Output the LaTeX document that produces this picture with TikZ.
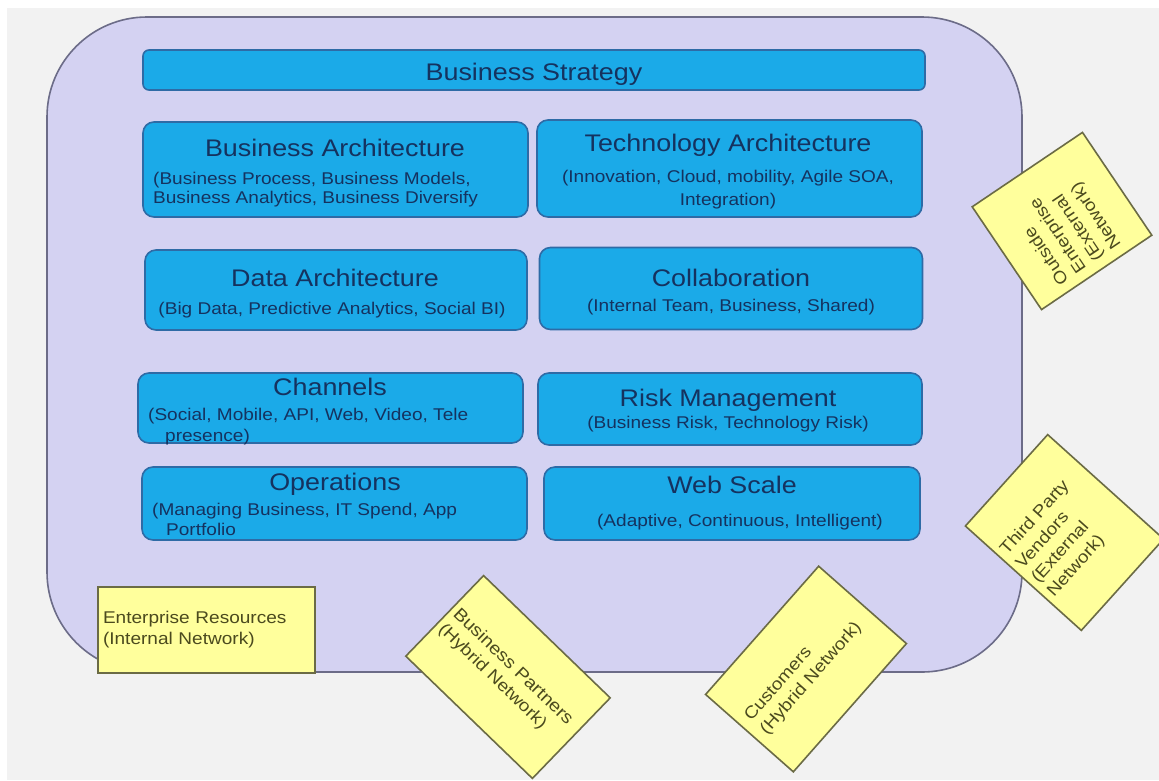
\documentclass[tikz,border=0pt]{standalone}
\usepackage{fontspec}
\setmainfont{Liberation Sans}[FakeStretch=1.12]
\definecolor{bggray}{HTML}{F2F2F2}
\definecolor{lavender}{HTML}{D4D2F2}
\definecolor{frameline}{HTML}{6C6C88}
\definecolor{boxblue}{HTML}{1BAAE8}
\definecolor{boxline}{HTML}{2E6BA6}
\definecolor{navy}{HTML}{15325F}
\definecolor{noteyellow}{HTML}{FFFF9C}
\definecolor{noteline}{HTML}{6B6B45}
\definecolor{notetext}{HTML}{4B4A1E}
\begin{document}
\begin{tikzpicture}[x=1pt,y=-1pt,
  frame/.style={draw=frameline, line width=1.6pt, fill=lavender, rounded corners=100pt, inner sep=0pt},
  bluebox/.style={draw=boxline, line width=1.6pt, fill=boxblue, rounded corners=11pt, inner sep=0pt},
  ttl/.style={text=navy, inner sep=0pt, anchor=base, font=\fontsize{24}{26}\selectfont},
  sub/.style={text=navy, inner sep=0pt, anchor=base, font=\fontsize{17}{20}\selectfont},
  subl/.style={sub, anchor=base west},
  note/.style={draw=noteline, line width=1.6pt, fill=noteyellow, text=notetext,
    font=\fontsize{17}{21}\selectfont, align=left, inner ysep=0pt}]
\useasboundingbox (0,0) rectangle (1159,780);
\fill[white] (0,0) rectangle (1159,780);
\fill[bggray] (7,8) rectangle (1159,780);

% enterprise frame
\node[frame, minimum width=975pt, minimum height=655pt] (frm) at (534.5,344.5) {};

% strategy bar
\node[bluebox, rounded corners=6pt, minimum width=782pt, minimum height=40pt] (bs) at (534,70) {};
\node[ttl] (bs-t) at (534,80) {Business Strategy};

% left column
\node[bluebox, minimum width=385pt, minimum height=95pt] (ba) at (335.5,169.5) {};
\node[ttl] (ba-t) at (335,156) {Business Architecture};
\node[subl] (ba-s1) at (153,184) {(Business Process, Business Models,};
\node[subl] (ba-s2) at (153,203) {Business Analytics, Business Diversify};

\node[bluebox, minimum width=382pt, minimum height=80pt] (da) at (336,290) {};
\node[ttl] (da-t) at (335,286) {Data Architecture};
\node[sub] (da-s) at (332,314) {(Big Data, Predictive Analytics, Social BI)};

\node[bluebox, minimum width=385pt, minimum height=70pt] (ch) at (330.5,408) {};
\node[ttl] (ch-t) at (330,395) {Channels};
\node[subl] (ch-s1) at (148,420) {(Social, Mobile, API, Web, Video, Tele};
\node[subl] (ch-s2) at (165,441) {presence)};

\node[bluebox, minimum width=385pt, minimum height=73pt] (op) at (334.5,503.5) {};
\node[ttl] (op-t) at (335,490) {Operations};
\node[subl] (op-s1) at (152,515) {(Managing Business, IT Spend, App};
\node[subl] (op-s2) at (166,535) {Portfolio};

% right column
\node[bluebox, minimum width=385pt, minimum height=97pt] (ta) at (729.5,168.5) {};
\node[ttl] (ta-t) at (728,151) {Technology Architecture};
\node[sub] (ta-s1) at (728,182) {(Innovation, Cloud, mobility, Agile SOA,};
\node[sub] (ta-s2) at (728,205) {Integration)};

\node[bluebox, minimum width=383pt, minimum height=82pt] (co) at (731,288.5) {};
\node[ttl] (co-t) at (731,286) {Collaboration};
\node[sub] (co-s) at (731,311) {(Internal Team, Business, Shared)};

\node[bluebox, minimum width=384pt, minimum height=72pt] (rm) at (730,409) {};
\node[ttl] (rm-t) at (728,406) {Risk Management};
\node[sub] (rm-s) at (728,428) {(Business Risk, Technology Risk)};

\node[bluebox, minimum width=376pt, minimum height=73pt] (ws) at (732,503.5) {};
\node[ttl] (ws-t) at (732,493) {Web Scale};
\node[sub] (ws-s) at (740,526) {(Adaptive, Continuous, Intelligent)};

% network notes
\node[note, inner xsep=5pt, minimum width=217pt, minimum height=86pt, text width=207pt] (er) at (206.5,630)
  {Enterprise Resources\\(Internal Network)};
\node[note, rotate=-44, inner xsep=5pt, minimum width=176pt, minimum height=112pt, text width=166pt] (bp) at (508,677)
  {\mbox{\fontsize{17.5}{21}\selectfont Business Partners}\\(Hybrid Network)};
\node[note, rotate=48.6, inner xsep=10pt, minimum width=171pt, minimum height=117pt, text width=151pt] (cu) at (806,669)
  {Customers\\(Hybrid Network)};
\node[note, rotate=48, inner xsep=6pt, minimum width=123pt, minimum height=156pt, text width=111pt] (tp) at (1064.5,532.5)
  {Third Party\\Vendors\\(External\\Network)};
\node[note, rotate=124, inner xsep=9pt, minimum width=124pt, minimum height=133pt, text width=106pt] (oe) at (1062,221)
  {Outside\\Enterprise\\(External\\Network)};
\end{tikzpicture}
\end{document}
